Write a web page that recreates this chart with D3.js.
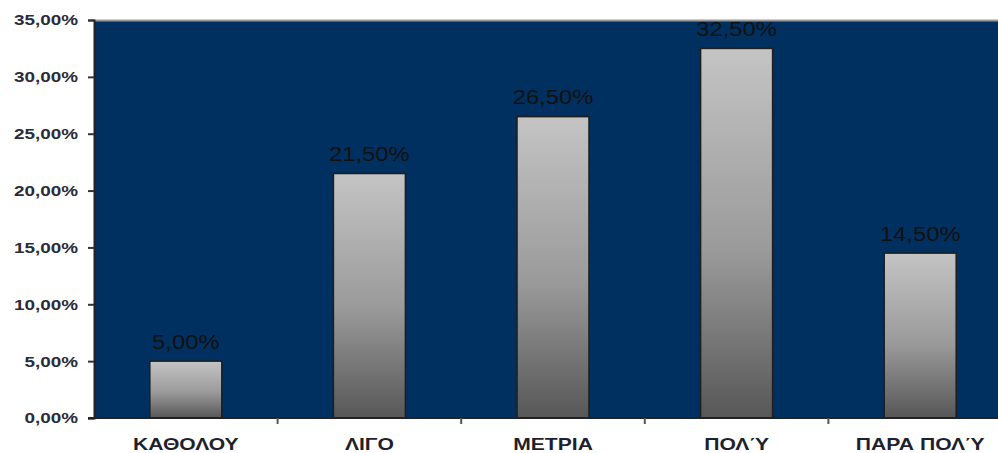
<!DOCTYPE html>
<html>
<head>
<meta charset="utf-8">
<script src="https://cdn.jsdelivr.net/npm/d3@7"></script>
<style>
  html, body { margin: 0; padding: 0; background: #fff; }
  svg { display: block; }
</style>
</head>
<body>
<svg id="chart" width="998" height="453"></svg>
<script>
// Response categories and share of answers (%)
const categories = ["ΚΑΘΟΛΟΥ", "ΛΙΓΟ", "ΜΕΤΡΙΑ", "ΠΟΛΎ", "ΠΑΡΑ ΠΟΛΎ"];
const values = [5.0, 21.5, 26.5, 32.5, 14.5];
const yTicks = [0, 5, 10, 15, 20, 25, 30, 35];

const fmt = v => v.toFixed(2).replace(".", ",") + "%";
const FONT = "Liberation Sans, Arial, sans-serif";
const STRETCH = 1.22; // wide-set lettering

const svg = d3.select("#chart");
const plot = { left: 94, top: 20, right: 1012, bottom: 418 };

const x = d3.scaleBand()
  .domain(categories)
  .range([plot.left, plot.right])
  .paddingInner(0.608)
  .paddingOuter(0.304);

const y = d3.scaleLinear().domain([0, 35]).range([plot.bottom, plot.top]);

// Bar gradient: light grey at the top, dark grey at the base
const defs = svg.append("defs");
const grad = defs.append("linearGradient")
  .attr("id", "barGrad").attr("x1", 0).attr("y1", 0).attr("x2", 0).attr("y2", 1);
grad.append("stop").attr("offset", "0%").attr("stop-color", "#c4c4c4");
grad.append("stop").attr("offset", "55%").attr("stop-color", "#9a9a9a");
grad.append("stop").attr("offset", "100%").attr("stop-color", "#575757");

// Plot background
svg.append("rect")
  .attr("x", plot.left).attr("y", plot.top)
  .attr("width", plot.right - plot.left).attr("height", plot.bottom - plot.top)
  .attr("fill", "#00305f");
svg.append("line")
  .attr("x1", plot.left).attr("x2", plot.right)
  .attr("y1", plot.top + 0.5).attr("y2", plot.top + 0.5)
  .attr("stroke", "#9a9a9a").attr("stroke-width", 2);

// Bars
svg.append("g").selectAll("rect")
  .data(values)
  .join("rect")
  .attr("x", (d, i) => x(categories[i]))
  .attr("y", d => y(d))
  .attr("width", x.bandwidth())
  .attr("height", d => y(0) - y(d))
  .attr("fill", "url(#barGrad)")
  .attr("stroke", "#1e1e1e")
  .attr("stroke-width", 1.5);

// Value labels above bars
svg.append("g").selectAll("text")
  .data(values)
  .join("text")
  .attr("transform", (d, i) =>
    `translate(${x(categories[i]) + x.bandwidth() / 2},${y(d) - 12.5}) scale(${STRETCH},1)`)
  .attr("text-anchor", "middle")
  .attr("font-family", FONT)
  .attr("font-size", 19.5)
  .attr("fill", "#111")
  .text(d => fmt(d));

// Y axis
const yAxis = svg.append("g")
  .attr("transform", `translate(${plot.left},0)`)
  .call(d3.axisLeft(y).tickValues(yTicks).tickSize(6).tickPadding(10).tickFormat(fmt));
yAxis.select(".domain").attr("stroke", "#222").attr("stroke-width", 2);
yAxis.selectAll(".tick line").attr("stroke", "#333").attr("stroke-width", 2);
yAxis.selectAll("text")
  .attr("x", 0)
  .attr("transform", `translate(-16,0) scale(${STRETCH},1)`)
  .attr("font-family", FONT)
  .attr("font-size", 15.5).attr("font-weight", "bold").attr("fill", "#2b2b3a");

// X axis with ticks between categories
const step = x.step();
const xAxis = svg.append("g").attr("transform", `translate(0,${plot.bottom})`);
xAxis.append("line")
  .attr("x1", plot.left - 6).attr("x2", plot.right)
  .attr("stroke", "#222").attr("stroke-width", 2);
xAxis.selectAll("line.sep")
  .data(categories.slice(1))
  .join("line")
  .attr("class", "sep")
  .attr("x1", (d) => x(d) - (step - x.bandwidth()) / 2)
  .attr("x2", (d) => x(d) - (step - x.bandwidth()) / 2)
  .attr("y1", 0).attr("y2", 6)
  .attr("stroke", "#555").attr("stroke-width", 2);
xAxis.selectAll("text")
  .data(categories)
  .join("text")
  .attr("transform", d => `translate(${x(d) + x.bandwidth() / 2},32) scale(1.28,1)`)
  .attr("text-anchor", "middle")
  .attr("font-family", FONT)
  .attr("font-size", 16.5).attr("font-weight", "bold")
  .attr("fill", "#1f1f2e")
  .text(d => d);
</script>
</body>
</html>
